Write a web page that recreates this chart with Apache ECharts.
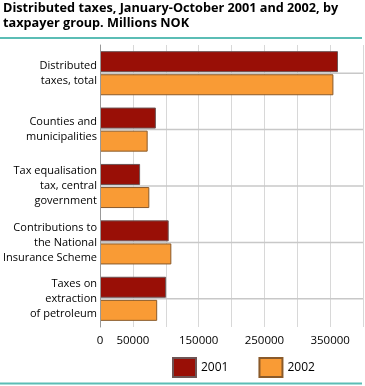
<!DOCTYPE html>
<html>
<head>
<meta charset="utf-8">
<script src="https://cdn.jsdelivr.net/npm/echarts@6/dist/echarts.min.js"></script>
<style>html,body{margin:0;padding:0;background:#fff}#c{width:365px;height:386px}</style>
</head>
<body>
<div id="c"></div>
<script>
const categories = [
  'Distributed\ntaxes, total',
  'Counties and\nmunicipalities',
  'Tax equalisation\ntax, central\ngovernment',
  'Contributions to\nthe National\nInsurance Scheme',
  'Taxes on\nextraction\nof petroleum'
];
const values2001 = [362000, 85000, 61000, 104500, 100500];
const values2002 = [355000, 72500, 75000, 108500, 87000];
const xTickLabels = ['0', '50000', '', '150000', '', '250000', '', '350000', ''];

const font = 'Open Sans';
const X_MAX = 400000;
const chart = echarts.init(document.getElementById('c'));
chart.setOption({
  animation: false,
  textStyle: { fontFamily: font },
  title: {
    text: 'Distributed taxes, January-October 2001 and 2002, by\ntaxpayer group. Millions NOK',
    left: 3, top: 1, padding: 0,
    textStyle: { fontFamily: font, fontSize: 12.7, fontWeight: 'bold', color: '#000', lineHeight: 15 }
  },
  graphic: [
    { type: 'line', shape: { x1: 0, y1: 38, x2: 362, y2: 38 }, style: { stroke: '#5bbdb5', lineWidth: 2 } },
    { type: 'line', shape: { x1: 0, y1: 383.5, x2: 362, y2: 383.5 }, style: { stroke: '#5bbdb5', lineWidth: 2 } }
  ],
  legend: {
    left: 172, top: 357, padding: 0,
    icon: 'rect',
    itemWidth: 23, itemHeight: 19, itemGap: 30,
    textStyle: { fontFamily: font, fontSize: 12, color: '#000' },
    data: ['2001', '2002']
  },
  grid: { left: 100, right: 2, top: 45, bottom: 59, containLabel: false, outerBoundsMode: 'none' },
  xAxis: {
    type: 'value', min: 0, max: X_MAX, interval: 50000,
    axisLine: { show: false }, axisTick: { show: false },
    axisLabel: { formatter: (v, i) => xTickLabels[i] || '', color: '#000', fontSize: 11.5, margin: 8 },
    splitLine: { lineStyle: { color: '#d8d8d8', width: 1 } }
  },
  yAxis: {
    type: 'category', inverse: true, data: categories,
    axisLine: { lineStyle: { color: '#999' } }, axisTick: { show: false },
    axisLabel: { color: '#000', fontSize: 11, lineHeight: 15, margin: 3, align: 'right' },
    z: 3
  },
  series: [
    {
      name: 'gridlines', type: 'custom', z: 2,
      data: categories.map(c => [X_MAX, c]),
      encode: { x: 0, y: 1 },
      renderItem: function (params, api) {
        const p2 = api.coord([api.value(0), api.value(1)]);
        const p1 = api.coord([0, api.value(1)]);
        return {
          type: 'line',
          shape: { x1: p1[0], y1: p1[1], x2: p2[0], y2: p2[1] },
          style: { stroke: '#c8c8c8', lineWidth: 1.5 }
        };
      }
    },
    {
      name: '2001', type: 'bar', data: values2001, z: 2,
      barWidth: 21, barGap: '10%',
      itemStyle: { color: '#990f06', borderColor: '#6e5555', borderWidth: 1 }
    },
    {
      name: '2002', type: 'bar', data: values2002, z: 2,
      barWidth: 21, barGap: '10%',
      itemStyle: { color: '#f99b35', borderColor: '#8a5a2a', borderWidth: 1 }
    }
  ]
});
</script>
</body>
</html>
